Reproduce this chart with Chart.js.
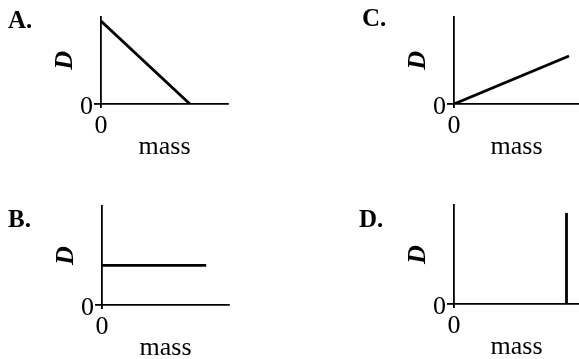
<!DOCTYPE html>
<html>
<head>
<meta charset="utf-8">
<script src="https://cdn.jsdelivr.net/npm/chart.js@4.4.1/dist/chart.umd.min.js"></script>
<style>
  html, body { margin: 0; padding: 0; background: #fff; }
  #page { position: relative; width: 579px; height: 359px; overflow: hidden; }
  canvas { position: absolute; }
  .tag { position: absolute; font: bold 25px "Liberation Serif", serif; line-height: 1; color: #000; }
</style>
</head>
<body>
<div id="page">
  <canvas id="chartA"></canvas>
  <canvas id="chartB"></canvas>
  <canvas id="chartC"></canvas>
  <canvas id="chartD"></canvas>
</div>
<script>
// panel data (mass on x, D on y, both 0..10)
var panelNames = ["A.", "B.", "C.", "D."];
var massA = [0, 7];
var dA = [9.5, 0];
var massB = [0, 8.2];
var dB = [4, 4];
var massC = [0, 9.2];
var dC = [0, 5.5];
var massD = [9, 9];
var dD = [0, 9.2];
var tickValues = [0];
var axisMax = 10;

!function() {
    "use strict";

    var serif = "'Liberation Serif', 'Times New Roman', serif";
    var FS = 26;    // text size
    var Y_W = 49;   // width of the y scale box
    var X_H = 56;   // height of the x scale box

    // canvas rect and plot-area rect, page coordinates
    var layout = {
        A: { canvas: [0, 0, 290, 180],   area: [101, 5, 228, 104],   tag: [8, 7] },
        B: { canvas: [0, 175, 290, 186], area: [102, 206, 229, 305], tag: [8, 206] },
        C: { canvas: [290, 0, 289, 180], area: [454, 4, 579, 104],   tag: [362, 5] },
        D: { canvas: [290, 175, 289, 186], area: [454, 205, 579, 304], tag: [359, 206] }
    };

    function points(xs, ys) {
        return xs.map(function(x, i) { return { x: x, y: ys[i] }; });
    }

    function makeChart(id, key, name, xs, ys) {
        var g = layout[key];
        var c = g.canvas, a = g.area;
        var el = document.getElementById(id);
        el.style.left = c[0] + "px";
        el.style.top = c[1] + "px";
        el.style.width = c[2] + "px";
        el.style.height = c[3] + "px";
        el.width = c[2];
        el.height = c[3];

        var tag = document.createElement("div");
        tag.className = "tag";
        tag.textContent = name;
        tag.style.left = g.tag[0] + "px";
        tag.style.top = g.tag[1] + "px";
        document.getElementById("page").appendChild(tag);

        var onlyZero = function(scale) {
            scale.ticks = tickValues.map(function(v) { return { value: v }; });
        };

        new Chart(el.getContext("2d"), {
            type: "line",
            data: {
                datasets: [{
                    data: points(xs, ys),
                    borderColor: "#000",
                    borderWidth: 2.8,
                    pointRadius: 0,
                    tension: 0,
                    fill: false
                }]
            },
            options: {
                responsive: false,
                animation: false,
                events: [],
                layout: {
                    padding: {
                        left: a[0] - c[0] - Y_W,
                        top: a[1] - c[1],
                        right: c[0] + c[2] - a[2],
                        bottom: c[1] + c[3] - a[3] - X_H
                    }
                },
                plugins: { legend: { display: false }, tooltip: { enabled: false } },
                scales: {
                    x: {
                        type: "linear",
                        min: 0,
                        max: axisMax,
                        afterBuildTicks: onlyZero,
                        afterFit: function(s) { s.height = X_H; },
                        border: { display: true, color: "#000", width: 1.8 },
                        grid: { drawOnChartArea: false, drawTicks: true, tickLength: 4, color: "#000", lineWidth: 1.8 },
                        ticks: { color: "#000", padding: 3, font: { family: serif, size: FS } },
                        title: {
                            display: true,
                            text: "mass",
                            color: "#000",
                            padding: 0,
                            font: { family: serif, size: FS, lineHeight: 1 }
                        }
                    },
                    y: {
                        type: "linear",
                        min: 0,
                        max: axisMax,
                        afterBuildTicks: onlyZero,
                        afterFit: function(s) { s.width = Y_W; },
                        border: { display: true, color: "#000", width: 1.8 },
                        grid: { drawOnChartArea: false, drawTicks: true, tickLength: 7, color: "#000", lineWidth: 1.8 },
                        ticks: { color: "#000", padding: 1, labelOffset: 3, font: { family: serif, size: FS } },
                        title: {
                            display: true,
                            text: "D",
                            color: "#000",
                            padding: 0,
                            font: { family: serif, size: FS, style: "italic", weight: "bold", lineHeight: 1 }
                        }
                    }
                }
            }
        });
    }

    makeChart("chartA", "A", panelNames[0], massA, dA);
    makeChart("chartB", "B", panelNames[1], massB, dB);
    makeChart("chartC", "C", panelNames[2], massC, dC);
    makeChart("chartD", "D", panelNames[3], massD, dD);
}();
</script>
</body>
</html>
